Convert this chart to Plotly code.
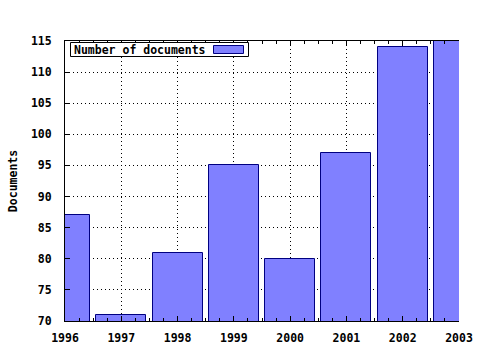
import plotly.graph_objects as go

years = [1996, 1997, 1998, 1999, 2000, 2001, 2002, 2003]
documents = [87, 71, 81, 95, 80, 97, 114, 115]
series_name = "Number of documents"
y_title = "Documents"

FONT = dict(family="DejaVu Sans Mono", size=11.5, color="black", weight="bold")
BAR_FILL = "#8080ff"
BAR_LINE = "#000080"

L, R, T, B = 65, 21, 41, 29
PW, PH = 480 - L - R, 350 - T - B


def px_x(p):
    return (p - L) / PW


def px_y(p):
    return 1 - (p - T) / PH


fig = go.Figure()
fig.add_trace(go.Bar(
    x=years, y=documents, name=series_name, width=0.89,
    marker=dict(color=BAR_FILL, line=dict(color=BAR_LINE, width=1)),
    showlegend=False,
))

# legend box (text on left, swatch on right as in reference)
fig.add_shape(
    type="rect", xref="paper", yref="paper",
    x0=px_x(70.5), x1=px_x(248.5), y0=px_y(56.5), y1=px_y(42.5),
    fillcolor="white", line=dict(color="black", width=1),
)
fig.add_shape(
    type="rect", xref="paper", yref="paper",
    x0=px_x(213.5), x1=px_x(243.5), y0=px_y(53.5), y1=px_y(45.5),
    fillcolor=BAR_FILL, line=dict(color=BAR_LINE, width=1),
)
fig.add_annotation(
    xref="paper", yref="paper", x=px_x(72), y=px_y(49.5),
    xanchor="left", yanchor="middle", text=series_name, showarrow=False,
    align="left", font=FONT,
)

fig.update_layout(
    width=480, height=350,
    margin=dict(l=L, r=R, t=T, b=B, autoexpand=False),
    paper_bgcolor="white", plot_bgcolor="white",
    font=FONT,
    showlegend=False,
    xaxis=dict(
        range=[1996, 2003], tickmode="array", tickvals=years,
        ticktext=[str(y) for y in years],
        showline=True, linecolor="black", linewidth=1, mirror="ticks",
        ticks="inside", ticklen=5, tickcolor="black",
        minor=dict(dtick=0.25, ticks="inside", ticklen=3, tickcolor="black", showgrid=False),
        showgrid=True, gridcolor="black", griddash="1px,3px", gridwidth=1,
        zeroline=False, tickfont=FONT, automargin=False, ticklabelstandoff=6,
    ),
    yaxis=dict(
        range=[70, 115], dtick=5,
        showline=True, linecolor="black", linewidth=1,
        ticks="inside", ticklen=5, tickcolor="black",
        showgrid=True, gridcolor="black", griddash="1px,3px", gridwidth=1,
        zeroline=False, tickfont=FONT, automargin=False, ticklabelstandoff=10,
        title=dict(text=y_title, font=FONT, standoff=10),
    ),
    bargap=0,
)

fig.write_html("out.html")
